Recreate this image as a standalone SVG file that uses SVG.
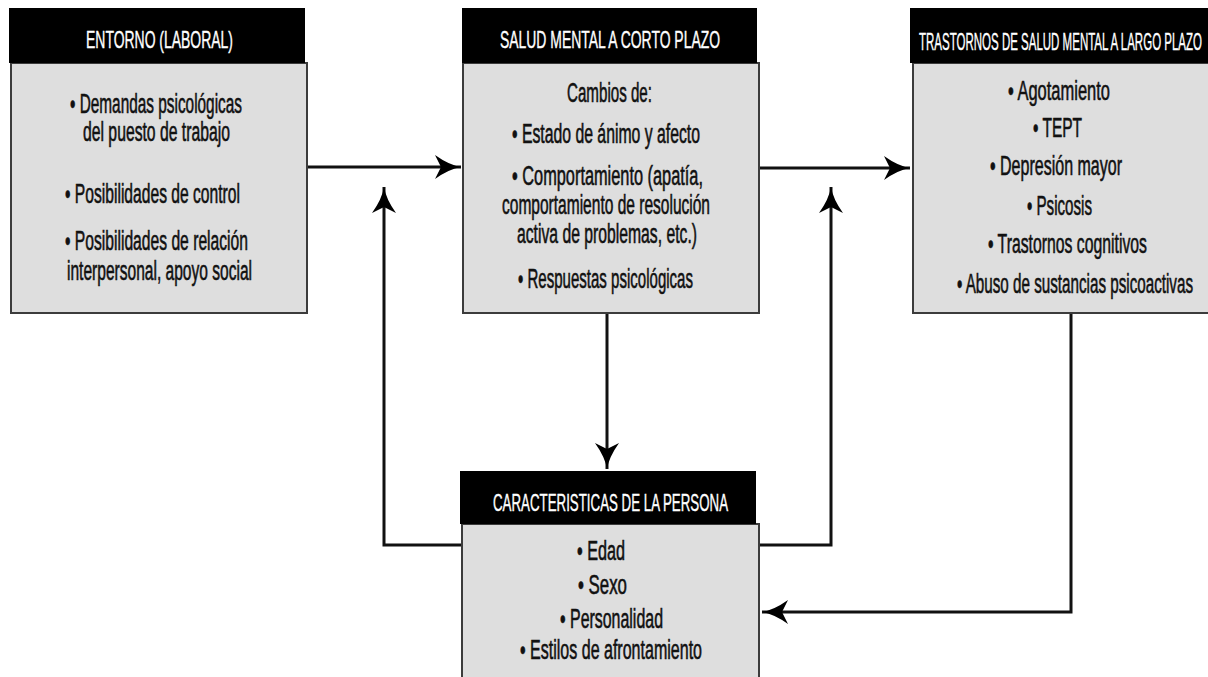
<svg xmlns="http://www.w3.org/2000/svg" width="1208" height="677" viewBox="0 0 1208 677">
<defs>
<style>
.hdr{fill:#000}
.body{fill:#dedede;stroke:#3c3c3c;stroke-width:2}
.ht{font-family:"Liberation Sans",Arial,sans-serif;font-size:24px;fill:#fff;stroke:#fff;stroke-width:0.4}
.bt{font-family:"Liberation Sans",Arial,sans-serif;font-size:27px;fill:#111;stroke:#111;stroke-width:0.6}
.conn{fill:none;stroke:#111;stroke-width:3}
</style>
<marker id="arr" markerUnits="userSpaceOnUse" markerWidth="30" markerHeight="26" viewBox="0 0 30 26" refX="28" refY="13" orient="auto">
<path d="M28,13 Q16,11 2,1 L8,13 L2,25 Q16,15 28,13 Z" fill="#000"/>
</marker>
</defs>
<rect width="1208" height="677" fill="#fff"/>

<g id="connectors">
<path class="conn" d="M307,167 H461" marker-end="url(#arr)"/>
<path class="conn" d="M760,168 H910" marker-end="url(#arr)"/>
<path class="conn" d="M607,313 V469" marker-end="url(#arr)"/>
<path class="conn" d="M462,545 H384 V187" marker-end="url(#arr)"/>
<path class="conn" d="M759,545 H831 V187" marker-end="url(#arr)"/>
<path class="conn" d="M1071,313 V612 H762" marker-end="url(#arr)"/>
</g>

<g id="entorno">
<rect class="body" x="11" y="63" width="296" height="250"/>
<rect class="hdr" x="9" y="8" width="296" height="55"/>
<text class="ht" x="86" y="48" textLength="147" lengthAdjust="spacingAndGlyphs">ENTORNO (LABORAL)</text>
<text class="bt" x="70" y="113" textLength="172" lengthAdjust="spacingAndGlyphs">• Demandas psicológicas</text>
<text class="bt" x="83" y="141" textLength="147" lengthAdjust="spacingAndGlyphs">del puesto de trabajo</text>
<text class="bt" x="65" y="203" textLength="175" lengthAdjust="spacingAndGlyphs">• Posibilidades de control</text>
<text class="bt" x="65" y="250" textLength="183" lengthAdjust="spacingAndGlyphs">• Posibilidades de relación</text>
<text class="bt" x="67" y="280" textLength="185" lengthAdjust="spacingAndGlyphs">interpersonal, apoyo social</text>
</g>

<g id="corto-plazo">
<rect class="body" x="463" y="63" width="296" height="250"/>
<rect class="hdr" x="462" y="8" width="295" height="55"/>
<text class="ht" x="500" y="48" textLength="220" lengthAdjust="spacingAndGlyphs">SALUD MENTAL A CORTO PLAZO</text>
<text class="bt" x="567" y="102" textLength="85" lengthAdjust="spacingAndGlyphs">Cambios de:</text>
<text class="bt" x="512" y="143" textLength="188" lengthAdjust="spacingAndGlyphs">• Estado de ánimo y afecto</text>
<text class="bt" x="512" y="185" textLength="191" lengthAdjust="spacingAndGlyphs">• Comportamiento (apatía,</text>
<text class="bt" x="502" y="214" textLength="208" lengthAdjust="spacingAndGlyphs">comportamiento de resolución</text>
<text class="bt" x="517" y="243" textLength="180" lengthAdjust="spacingAndGlyphs">activa de problemas, etc.)</text>
<text class="bt" x="518" y="288" textLength="175" lengthAdjust="spacingAndGlyphs">• Respuestas psicológicas</text>
</g>

<g id="largo-plazo">
<rect class="body" x="913" y="63" width="300" height="250"/>
<rect class="hdr" x="910" y="8" width="300" height="55"/>
<text class="ht" x="919" y="50" textLength="283" lengthAdjust="spacingAndGlyphs">TRASTORNOS DE SALUD MENTAL A LARGO PLAZO</text>
<text class="bt" x="1008" y="100" textLength="102" lengthAdjust="spacingAndGlyphs">• Agotamiento</text>
<text class="bt" x="1033" y="137" textLength="49" lengthAdjust="spacingAndGlyphs">• TEPT</text>
<text class="bt" x="990" y="175" textLength="132" lengthAdjust="spacingAndGlyphs">• Depresión mayor</text>
<text class="bt" x="1027" y="215" textLength="65" lengthAdjust="spacingAndGlyphs">• Psicosis</text>
<text class="bt" x="988" y="253" textLength="159" lengthAdjust="spacingAndGlyphs">• Trastornos cognitivos</text>
<text class="bt" x="957" y="293" textLength="236" lengthAdjust="spacingAndGlyphs">• Abuso de sustancias psicoactivas</text>
</g>

<g id="persona">
<rect class="body" x="462" y="524" width="297" height="170"/>
<rect class="hdr" x="460" y="471" width="296" height="53"/>
<text class="ht" x="493" y="511" textLength="235" lengthAdjust="spacingAndGlyphs">CARACTERISTICAS DE LA PERSONA</text>
<text class="bt" x="577" y="560" textLength="48" lengthAdjust="spacingAndGlyphs">• Edad</text>
<text class="bt" x="578" y="594" textLength="49" lengthAdjust="spacingAndGlyphs">• Sexo</text>
<text class="bt" x="560" y="628" textLength="103" lengthAdjust="spacingAndGlyphs">• Personalidad</text>
<text class="bt" x="520" y="659" textLength="182" lengthAdjust="spacingAndGlyphs">• Estilos de afrontamiento</text>
</g>
</svg>
